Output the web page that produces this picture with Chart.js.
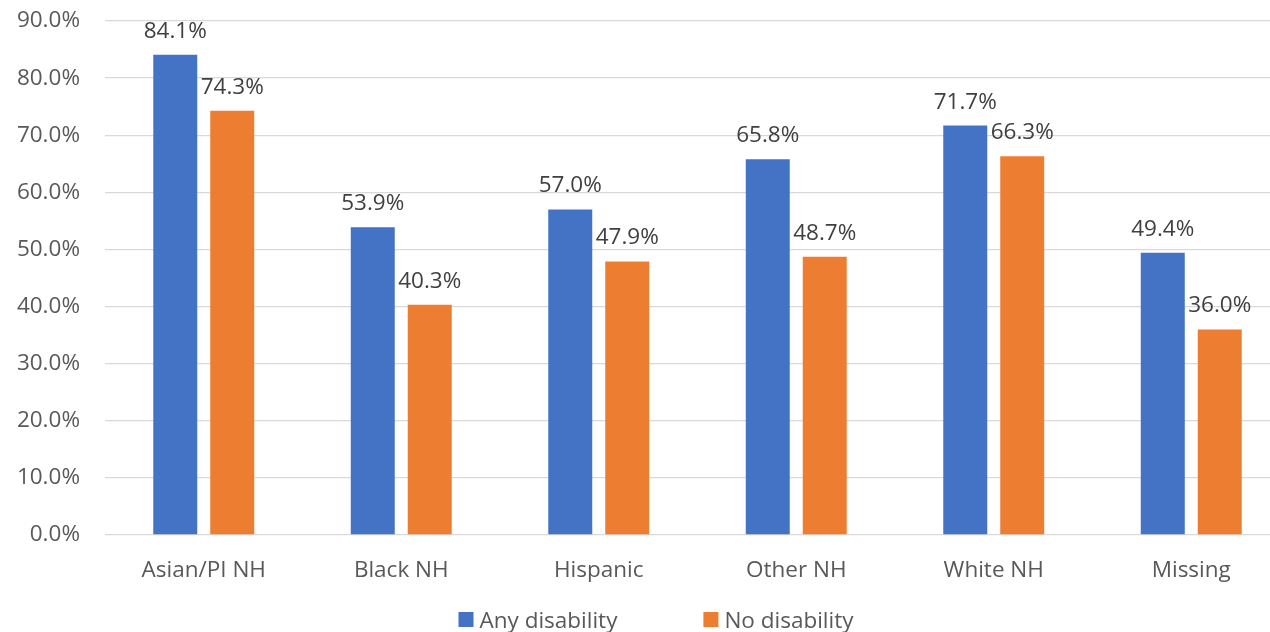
<!DOCTYPE html>
<html>
<head>
<meta charset="utf-8">
<script src="https://cdn.jsdelivr.net/npm/chart.js@4/dist/chart.umd.min.js"></script>
<style>
  html, body { margin: 0; padding: 0; background: #fff; overflow: hidden; }
  #wrap { width: 1312px; height: 632px; }
</style>
</head>
<body>
<div id="wrap"><canvas id="c" width="1312" height="632"></canvas></div>
<script>
// Share of each group, by disability status (percent)
const categories = ['Asian/PI NH', 'Black NH', 'Hispanic', 'Other NH', 'White NH', 'Missing'];
const anyDisability = [84.1, 53.9, 57.0, 65.8, 71.7, 49.4];
const noDisability = [74.3, 40.3, 47.9, 48.7, 66.3, 36.0];
const seriesNames = ['Any disability', 'No disability'];
const yTicks = [0, 10, 20, 30, 40, 50, 60, 70, 80, 90];

const FONT = '"Open Sans", "Noto Sans", sans-serif';
const FONT_SIZE = 22.5;
const fmt = v => v.toFixed(1) + '%';

// Value labels above each bar
const valueLabels = {
  id: 'valueLabels',
  afterDatasetsDraw(chart) {
    const ctx = chart.ctx;
    ctx.save();
    ctx.font = `${FONT_SIZE}px ${FONT}`;
    ctx.fillStyle = '#404040';
    ctx.textAlign = 'center';
    ctx.textBaseline = 'alphabetic';
    chart.data.datasets.forEach((ds, di) => {
      chart.getDatasetMeta(di).data.forEach((bar, i) => {
        ctx.fillText(fmt(ds.data[i]), bar.x, bar.y - 17);
      });
    });
    ctx.restore();
  }
};

// Bottom legend with square swatches
const bottomLegend = {
  id: 'bottomLegend',
  afterDraw(chart) {
    const ctx = chart.ctx;
    ctx.save();
    ctx.font = `${FONT_SIZE}px ${FONT}`;
    ctx.textBaseline = 'alphabetic';
    ctx.textAlign = 'left';
    const box = 15, gap = 6, itemGap = 86;
    const items = chart.data.datasets.map(ds => ({
      text: ds.label, color: ds.backgroundColor,
      w: box + gap + ctx.measureText(ds.label).width
    }));
    const total = items.reduce((s, it) => s + it.w, 0) + itemGap * (items.length - 1);
    let x = chart.width / 2 - total / 2;
    const baseline = chart.height - 4;
    items.forEach(it => {
      ctx.fillStyle = it.color;
      ctx.fillRect(x, baseline - 16, box, box);
      ctx.fillStyle = '#595959';
      ctx.fillText(it.text, x + box + gap, baseline);
      x += it.w + itemGap;
    });
    ctx.restore();
  }
};

new Chart(document.getElementById('c'), {
  type: 'bar',
  data: {
    labels: categories,
    datasets: [
      { label: seriesNames[0], data: anyDisability, backgroundColor: '#4472C4' },
      { label: seriesNames[1], data: noDisability, backgroundColor: '#ED7D31' }
    ]
  },
  options: {
    responsive: false,
    animation: false,
    devicePixelRatio: 1,
    layout: { padding: { top: 21, right: 22, bottom: 0, left: 0 } },
    datasets: { bar: { categoryPercentage: 0.577, barPercentage: 0.772 } },
    plugins: { legend: { display: false }, tooltip: { enabled: false } },
    scales: {
      x: {
        grid: { display: false, drawTicks: false },
        border: { display: false },
        ticks: {
          color: '#595959',
          font: { family: FONT, size: FONT_SIZE },
          padding: 22,
          maxRotation: 0
        },
        afterFit(scale) { scale.height = 97; }
      },
      y: {
        min: 0,
        max: 90,
        afterBuildTicks(scale) { scale.ticks = yTicks.map(v => ({ value: v })); },
        grid: { color: '#D9D9D9', lineWidth: 1.3, drawTicks: false },
        border: { display: false },
        ticks: {
          color: '#595959',
          font: { family: FONT, size: FONT_SIZE },
          padding: 25,
          callback: v => fmt(v)
        },
        afterFit(scale) {
          scale.width = 105;
          scale.paddingTop = 0;
          scale.paddingBottom = 0;
        }
      }
    }
  },
  plugins: [valueLabels, bottomLegend]
});
</script>
</body>
</html>
